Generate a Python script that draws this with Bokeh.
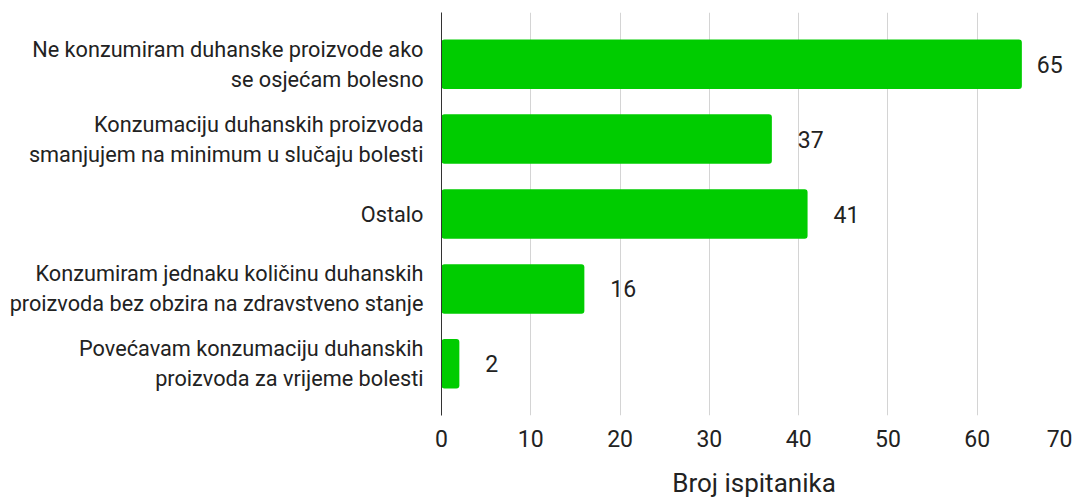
from bokeh.plotting import figure
from bokeh.models import ColumnDataSource, FactorRange
from bokeh.core.properties import value
from bokeh.embed import file_html
from bokeh.resources import INLINE

categories = [
    "Ne konzumiram duhanske proizvode ako\nse osjećam bolesno",
    "Konzumaciju duhanskih proizvoda\nsmanjujem na minimum u slučaju bolesti",
    "Ostalo",
    "Konzumiram jednaku količinu duhanskih\nproizvoda bez obzira na zdravstveno stanje",
    "Povećavam konzumaciju duhanskih\nproizvoda za vrijeme bolesti",
]
counts = [65, 37, 41, 16, 2]
x_ticks = [0, 10, 20, 30, 40, 50, 60, 70]
x_title = "Broj ispitanika"

FONT = "Roboto"

src = ColumnDataSource(dict(
    cat=categories,
    val=counts,
    lab=[str(v) for v in counts],
    off=[15 if v > 60 else 26 for v in counts],
))

p = figure(
    width=1072, height=500,
    y_range=FactorRange(factors=list(reversed(categories)),
                        range_padding=0.19, range_padding_units="absolute"),
    x_range=(0, 70),
    output_backend="svg", toolbar_location=None,
    min_border_left=441, min_border_right=6, min_border_top=12, min_border_bottom=82,
)
p.outline_line_color = None
p.background_fill_color = "white"
p.border_fill_color = "white"

p.hbar(y="cat", right="val", left=0, height=0.66, source=src,
       fill_color="#00cc00", line_color=None, border_radius=3)

p.text(x="val", y="cat", text="lab", source=src, x_offset="off",
       text_baseline="middle", text_align="left", text_color="#222222",
       text_font=value(FONT), text_font_size="23px")

# x axis
p.xaxis.ticker = x_ticks
p.xaxis.axis_line_color = None
p.xaxis.major_tick_line_color = None
p.xaxis.minor_tick_line_color = None
p.xaxis.major_label_text_font = FONT
p.xaxis.major_label_text_font_size = "23px"
p.xaxis.major_label_text_color = "#222222"
p.xaxis.major_label_standoff = 8
p.xaxis.axis_label = x_title
p.xaxis.axis_label_text_font = FONT
p.xaxis.axis_label_text_font_size = "26px"
p.xaxis.axis_label_text_font_style = "normal"
p.xaxis.axis_label_text_color = "#222222"
p.xaxis.axis_label_standoff = 18

# y axis
p.yaxis.axis_line_color = "#333333"
p.yaxis.axis_line_width = 1
p.yaxis.major_tick_line_color = None
p.yaxis.minor_tick_line_color = None
p.yaxis.major_label_text_font = FONT
p.yaxis.major_label_text_font_size = "21.7px"
p.yaxis.major_label_text_color = "#222222"
p.yaxis.major_label_standoff = 12
p.yaxis.major_label_text_line_height = 1.2
p.yaxis.major_label_text_align = "right"

p.xgrid.grid_line_color = "#d4d4d4"
p.ygrid.grid_line_color = None

open("out.html", "w").write(file_html(p, INLINE))
